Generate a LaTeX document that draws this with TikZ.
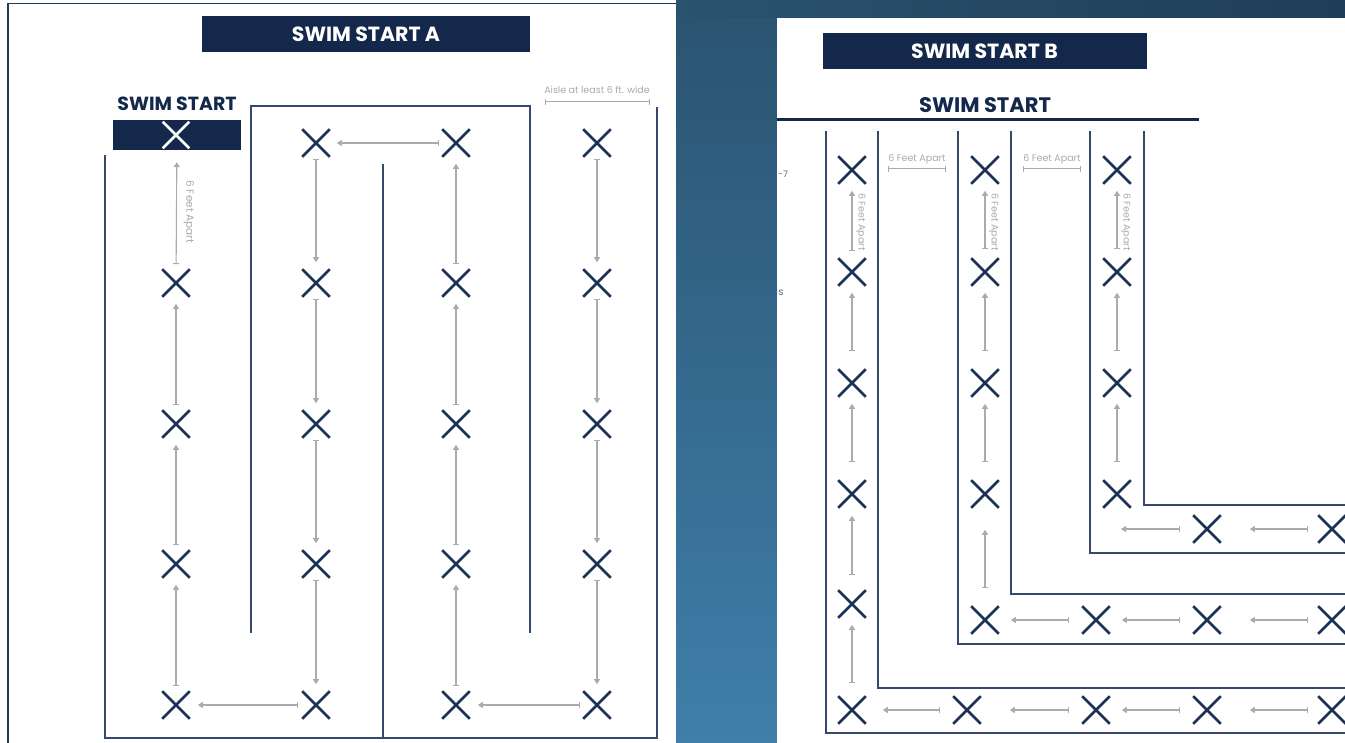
\documentclass[tikz,border=0pt]{standalone}
\usepackage{fontspec}
\setmainfont{Poppins}
\usetikzlibrary{arrows.meta,shapes.misc}
\definecolor{navy}{HTML}{14284C}
\definecolor{xcol}{HTML}{1C3156}
\definecolor{wall}{HTML}{34496B}
\definecolor{arrgray}{HTML}{ABABAB}
\definecolor{txtgray}{HTML}{ABABAB}
\definecolor{stripTop}{HTML}{2A5370}
\definecolor{stripBot}{HTML}{3F7FAA}
\definecolor{bandR}{HTML}{1F3D58}
\definecolor{frame}{HTML}{1F3B57}
\definecolor{stray}{HTML}{606878}
\begin{document}
\begin{tikzpicture}[x=1pt,y=-1pt,
  xm/.style={cross out, draw=xcol, line width=2.6pt, minimum size=25pt, inner sep=0pt},
  xw/.style={cross out, draw=white, line width=2.6pt, minimum size=24pt, inner sep=0pt},
  wallline/.style={draw=wall, line width=1.9pt},
  arr/.style={draw=arrgray, line width=1.1pt, {Bar[width=6pt]}-{Triangle[width=6pt,length=5pt]}},
  dimline/.style={draw=arrgray, line width=1pt, {Bar[width=6pt]}-{Bar[width=6pt]}},
  titlebox/.style={fill=navy, text=white, font=\bfseries\fontsize{20.5}{20.5}\selectfont, inner sep=0pt},
  heading/.style={text=navy, font=\bfseries\fontsize{19}{19}\selectfont, inner sep=0pt},
  smalltxt/.style={text=txtgray, font=\fontsize{9.5}{9.5}\selectfont, inner sep=0pt},
  rottxt/.style={text=txtgray, font=\fontsize{10.5}{10.5}\selectfont, inner sep=0pt, rotate=-90},
]
\useasboundingbox (0,0) rectangle (1345,743);
\fill[white] (0,0) rectangle (1345,743);
% background strip and band
\shade[top color=stripTop, bottom color=stripBot] (676,0) rectangle (777,743);
\shade[left color=stripTop, right color=bandR] (676,0) rectangle (1345,18);
\draw[draw=frame, line width=2pt] (8,743) -- (8,3);
\draw[draw=frame, line width=0.8pt] (8,3) -- (676,3);
% panel B
\fill[white] (777,18) rectangle (1345,743);

% ================= PANEL A =================
\node[titlebox, minimum width=328pt, minimum height=36pt] (ta) at (366,34.5) {SWIM START A};
\node[heading] (sa) at (177,104) {SWIM START};
\node[fill=navy, minimum width=128pt, minimum height=30pt, inner sep=0pt] (sbox) at (177,135) {};
\node[xw] (a11) at (176,135) {};

\draw[wallline] (105,155) -- (105,738) -- (657,738) -- (657,107);
\draw[wallline] (251,633) -- (251,106) -- (530,106) -- (530,633);
\draw[wallline] (383,164) -- (383,738);

\foreach \r/\y in {2/283,3/424,4/564,5/705} \node[xm] (a1\r) at (176,\y) {};
\foreach \c/\x in {2/316,3/456,4/597} {
  \foreach \r/\y in {1/143,2/283,3/424,4/564,5/705} \node[xm] (a\c\r) at (\x,\y) {};
}

% column 1 (up)
\draw[arr, shorten <=5pt, shorten >=7pt] (a15) -- (a14);
\draw[arr, shorten <=5pt, shorten >=7pt] (a14) -- (a13);
\draw[arr, shorten <=5pt, shorten >=7pt] (a13) -- (a12);
\draw[arr, shorten <=5pt, shorten >=12pt] (a12) -- (sbox);
% column 2 (down)
\foreach \a/\b in {1/2,2/3,3/4,4/5} \draw[arr, shorten <=2pt, shorten >=7pt] (a2\a) -- (a2\b);
% column 3 (up)
\foreach \a/\b in {5/4,4/3,3/2,2/1} \draw[arr, shorten <=5pt, shorten >=7pt] (a3\a) -- (a3\b);
% column 4 (down)
\foreach \a/\b in {1/2,2/3,3/4,4/5} \draw[arr, shorten <=2pt, shorten >=7pt] (a4\a) -- (a4\b);
% horizontals
\draw[arr, shorten <=3pt, shorten >=7pt] (a31) -- (a21);
\draw[arr, shorten <=4pt, shorten >=8pt] (a25) -- (a15);
\draw[arr, shorten <=3pt, shorten >=8pt] (a45) -- (a35);

\node[rottxt] (fa) at (189,212) {6 Feet Apart};
\coordinate (aisL) at (545,102);
\coordinate (aisR) at (650,102);
\draw[dimline] (aisL) -- (aisR);
\node[smalltxt] (aisT) at (597,90) {Aisle at least 6 ft. wide};

% ================= PANEL B =================
\node[titlebox, minimum width=324pt, minimum height=36pt] (tb) at (984.5,51.5) {SWIM START B};
\node[heading, font=\bfseries\fontsize{21}{21}\selectfont] (sb) at (985,105) {SWIM START};
\draw[draw=navy, line width=3pt] (777,119.5) -- (1199,119.5);

\node[text=stray, font=\fontsize{9}{9}\selectfont, inner sep=0pt] (st1) at (783,174) {-7};
\node[text=stray, font=\fontsize{10}{10}\selectfont, inner sep=0pt] (st2) at (781,293) {s};

\draw[wallline] (826,131) -- (826,733) -- (1345,733);
\draw[wallline] (878,131) -- (878,688) -- (1345,688);
\draw[wallline] (958,131) -- (958,644) -- (1345,644);
\draw[wallline] (1011,131) -- (1011,594) -- (1345,594);
\draw[wallline] (1090,131) -- (1090,553) -- (1345,553);
\draw[wallline] (1144,131) -- (1144,505) -- (1345,505);

% lane 1
\foreach \r/\y in {1/170,2/272,3/383,4/494,5/604,6/710} \node[xm] (p\r) at (852,\y) {};
\node[xm] (p7) at (967,710) {};
\node[xm] (p8) at (1096,710) {};
\node[xm] (p9) at (1207,710) {};
\node[xm] (p10) at (1332,710) {};
% lane 2
\foreach \r/\y in {1/170,2/272,3/383,4/494,5/620} \node[xm] (q\r) at (985,\y) {};
\node[xm] (q6) at (1096,620) {};
\node[xm] (q7) at (1207,620) {};
\node[xm] (q8) at (1332,620) {};
% lane 3
\foreach \r/\y in {1/170,2/272,3/383,4/494} \node[xm] (r\r) at (1117,\y) {};
\node[xm] (r5) at (1207,529) {};
\node[xm] (r6) at (1332,529) {};
\coordinate (rc) at (1117,529);

% lane 1 arrows
\draw[arr, shorten <=7pt, shorten >=7pt] (p2) -- (p1);
\draw[arr, shorten <=18pt, shorten >=7pt] (p3) -- (p2);
\draw[arr, shorten <=18pt, shorten >=7pt] (p4) -- (p3);
\draw[arr, shorten <=15pt, shorten >=8pt] (p5) -- (p4);
\draw[arr, shorten <=13pt, shorten >=7pt] (p6) -- (p5);
\draw[arr, shorten <=13pt, shorten >=17pt] (p7) -- (p6);
\draw[arr, shorten <=13pt, shorten >=29pt] (p8) -- (p7);
\draw[arr, shorten <=13pt, shorten >=12pt] (p9) -- (p8);
\draw[arr, shorten <=10pt, shorten >=29pt] (p10) -- (p9);
% lane 2 arrows
\draw[arr, shorten <=9pt, shorten >=7pt] (q2) -- (q1);
\draw[arr, shorten <=18pt, shorten >=7pt] (q3) -- (q2);
\draw[arr, shorten <=18pt, shorten >=7pt] (q4) -- (q3);
\draw[arr, shorten <=18pt, shorten >=22pt] (q5) -- (q4);
\draw[arr, shorten <=13pt, shorten >=12pt] (q6) -- (q5);
\draw[arr, shorten <=13pt, shorten >=12pt] (q7) -- (q6);
\draw[arr, shorten <=10pt, shorten >=29pt] (q8) -- (q7);
% lane 3 arrows
\draw[arr, shorten <=9pt, shorten >=7pt] (r2) -- (r1);
\draw[arr, shorten <=18pt, shorten >=7pt] (r3) -- (r2);
\draw[arr, shorten <=18pt, shorten >=7pt] (r4) -- (r3);
\draw[arr, shorten <=13pt, shorten >=4pt] (r5) -- (rc);
\draw[arr, shorten <=10pt, shorten >=29pt] (r6) -- (r5);

% labels
\node[rottxt, font=\fontsize{9.5}{9.5}\selectfont] (fb1) at (861,222) {6 Feet Apart};
\node[rottxt, font=\fontsize{9.5}{9.5}\selectfont] (fb2) at (994,222) {6 Feet Apart};
\node[rottxt, font=\fontsize{9.5}{9.5}\selectfont] (fb3) at (1126,222) {6 Feet Apart};
\coordinate (d1L) at (888,169);
\coordinate (d1R) at (946,169);
\draw[dimline] (d1L) -- (d1R);
\node[smalltxt] (d1T) at (917,159) {6 Feet Apart};
\coordinate (d2L) at (1023,169);
\coordinate (d2R) at (1081,169);
\draw[dimline] (d2L) -- (d2R);
\node[smalltxt] (d2T) at (1052,159) {6 Feet Apart};
\end{tikzpicture}
\end{document}
